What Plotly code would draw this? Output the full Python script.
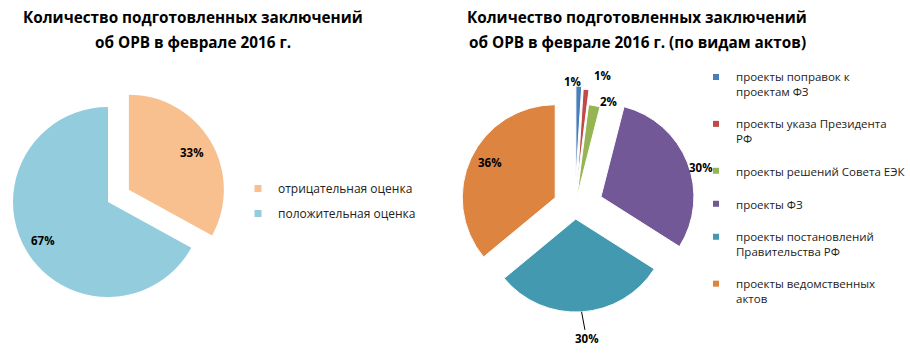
import math
import plotly.graph_objects as go

# ---- data: left chart ----
left_labels = ["отрицательная оценка", "положительная оценка"]
left_values = [33, 67]

# ---- data: right chart ----
right_labels = [
    "проекты поправок к<br>проектам ФЗ",
    "проекты указа Президента<br>РФ",
    "проекты решений Совета ЕЭК",
    "проекты ФЗ",
    "проекты постановлений<br>Правительства РФ",
    "проекты ведомственных<br>актов",
]
right_values = [1, 1, 2, 30, 30, 36]

# ---- styles ----
left_colors = ["#F9C08F", "#93CDDD"]
left_pull = [0.255, 0.0]
left_label_r = [0.77, 0.80]          # label distance (fraction of radius)
left_label_da = [0, 0]               # label angle offset (deg)

right_colors = ["#4A7EBB", "#BE4B48", "#94B552", "#735898", "#4399B0", "#DD8440"]
right_pull = [0.30, 0.27, 0.11, 0.30, 0.13, 0.235]
right_label_r = [1.05, 1.18, 1.086, 1.118, 1.0, 0.795]
right_label_da = [-4, 7.6, 7.7, 5.2, 0, 3.2]
right_leader = [None, None, None, None, (5, 27), None]   # (dx, dy) px of text from arc

W, H = 910, 358
FONT = "Open Sans"
label_font = dict(family=FONT, size=11.5, color="black", weight="bold")

# geometry (pixels)
L_CX, L_CY, L_R = 108, 202, 95
R_CX, R_CY, R_R = 575, 207, 93


def dom(cx, cy, half):
    return dict(x=[(cx - half) / W, (cx + half) / W],
                y=[(H - cy - half) / H, (H - cy + half) / H])


def slices(values, pulls, cx, cy, r):
    total = float(sum(values))
    cum = 0.0
    res = []
    for v, p in zip(values, pulls):
        mid = (cum + v / 2.0) / total * 2 * math.pi
        cum += v
        res.append((mid, cx + p * r * math.sin(mid), cy - p * r * math.cos(mid),
                    "%d%%" % round(v / total * 100)))
    return res


fig = go.Figure()
transparent = "rgba(0,0,0,0)"

# Left pie: each slice drawn as its own layer so that one can be exploded
left_geo = slices(left_values, left_pull, L_CX, L_CY, L_R)
for i, (mid, sx, sy, _) in enumerate(left_geo):
    cols = [left_colors[j] if j == i else transparent for j in range(len(left_values))]
    fig.add_trace(go.Pie(
        labels=left_labels, values=left_values, sort=False, direction="clockwise",
        marker=dict(colors=cols, line=dict(width=0)),
        textinfo="none", domain=dom(sx, sy, L_R), showlegend=False, hoverinfo="skip",
    ))

# Right pie
fig.add_trace(go.Pie(
    labels=right_labels, values=right_values, sort=False, direction="clockwise",
    marker=dict(colors=right_colors, line=dict(color="white", width=1)),
    pull=right_pull, textinfo="none",
    domain=dom(R_CX, R_CY, R_R * (1 + max(right_pull))), showlegend=False,
))

# Legend entries
for name, color in zip(left_labels, left_colors):
    fig.add_trace(go.Scatter(
        x=[None], y=[None], mode="markers", name=name, legend="legend",
        legendgroup=name, marker=dict(symbol="square", size=7, color=color),
        hoverinfo="skip",
    ))
for name, color in zip(right_labels, right_colors):
    fig.add_trace(go.Scatter(
        x=[None], y=[None], mode="markers", name=name, legend="legend2",
        legendgroup=name, marker=dict(symbol="square", size=6, color=color),
        hoverinfo="skip",
    ))

annotations = []

# Titles
title_font = dict(family=FONT, size=15.3, color="black", weight="bold")
for cx, lines in [(193, ["Количество подготовленных заключений", "об ОРВ в феврале 2016 г."]),
                  (637, ["Количество подготовленных заключений", "об ОРВ в феврале 2016 г. (по видам актов)"])]:
    for y, line in zip([17, 42], lines):
        annotations.append(dict(text=line, x=cx / W, y=(H - y) / H, xref="paper", yref="paper",
                                xanchor="center", yanchor="middle", showarrow=False, font=title_font))

# Percentage labels (derived from the slice values)
for geo, r, ks, das, leaders in [
    (left_geo, L_R, left_label_r, left_label_da, [None] * len(left_values)),
    (slices(right_values, right_pull, R_CX, R_CY, R_R), R_R, right_label_r, right_label_da, right_leader),
]:
    for (mid, sx, sy, txt), k, da, lead in zip(geo, ks, das, leaders):
        a = mid + math.radians(da)
        px = sx + k * r * math.sin(a)
        py = sy - k * r * math.cos(a)
        if lead is None:
            annotations.append(dict(text=txt, x=px / W, y=(H - py) / H, xref="paper", yref="paper",
                                    xanchor="center", yanchor="middle", showarrow=False, font=label_font))
        else:
            annotations.append(dict(text=txt, x=px / W, y=(H - py) / H, xref="paper", yref="paper",
                                    showarrow=True, ax=lead[0], ay=lead[1], arrowhead=0,
                                    arrowwidth=1, arrowcolor="black", font=label_font))

fig.update_layout(
    width=W, height=H, margin=dict(l=0, r=0, t=0, b=0, autoexpand=False),
    paper_bgcolor="white", plot_bgcolor="white",
    xaxis=dict(visible=False), yaxis=dict(visible=False),
    annotations=annotations,
    legend=dict(x=238 / W, y=(H - 174) / H, xanchor="left", yanchor="top",
                font=dict(family=FONT, size=12, color="#222222"),
                tracegroupgap=6, bgcolor="rgba(0,0,0,0)"),
    legend2=dict(x=696 / W, y=(H - 63) / H, xanchor="left", yanchor="top",
                 font=dict(family=FONT, size=11.5, color="#222222"),
                 tracegroupgap=14, valign="top", bgcolor="rgba(0,0,0,0)"),
)

# the page body has a default 8px margin; remove it so the figure fills the window
fig.write_html("out.html", config={"displayModeBar": False},
               post_script="document.body.style.margin='0';")
